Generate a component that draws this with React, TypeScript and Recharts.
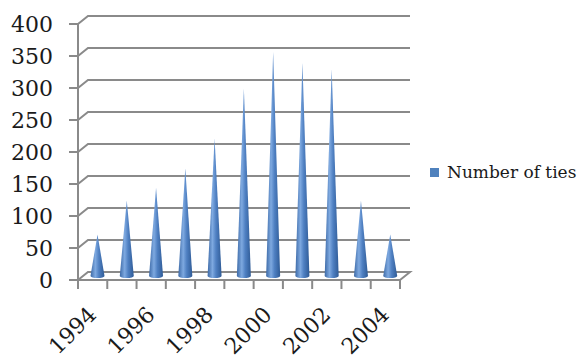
import { BarChart, Bar, XAxis, YAxis, CartesianGrid, Legend } from 'recharts'

const YEARS = ['1994', '1995', '1996', '1997', '1998', '1999', '2000', '2001', '2002', '2003', '2004']
const TIES = [65, 118, 138, 168, 215, 293, 350, 333, 323, 118, 65]
const Y_TICKS = [0, 50, 100, 150, 200, 250, 300, 350, 400]
const SERIES_NAME = 'Number of ties'

const W = 582
const H = 358
const AXIS_W = 78
const AXIS_H = 78
const M = { top: 24, right: 182, bottom: 0, left: 0 }
const PLOT_W = W - AXIS_W - M.right
const BAND = PLOT_W / YEARS.length
// 3D depth of the walls
const DX = 10
const DY = 8
const FONT = '"DejaVu Serif", serif'
const GRID = '#8a8a8a'

const data = YEARS.map((year, i) => ({ year, ties: TIES[i] }))

const Cone = (props: any) => {
  const { x, y, width, height, index } = props
  if (height == null || height <= 0) return null
  const cx = x + width / 2 + DX / 2
  const tip = y - DY / 2
  const base = y + height - DY / 2
  const hw = 7
  const id = `cone-${index}`
  return (
    <g>
      <defs>
        <linearGradient id={id} x1="0" y1="0" x2="1" y2="0">
          <stop offset="0%" stopColor="#3d6aa7" />
          <stop offset="35%" stopColor="#7ea9e0" />
          <stop offset="60%" stopColor="#4f80c2" />
          <stop offset="100%" stopColor="#2f5b96" />
        </linearGradient>
      </defs>
      <path
        d={`M${cx - hw},${base} L${cx},${tip} L${cx + hw},${base} A${hw},2 0 0 1 ${cx - hw},${base} Z`}
        fill={`url(#${id})`}
      />
    </g>
  )
}

const GridLine = (props: any) => {
  const { x1, x2, y1 } = props
  const isFloor = Math.abs(y1 - (H - AXIS_H)) < 1
  let d = `M${x1},${y1} L${x1 + DX},${y1 - DY} L${x2 + DX},${y1 - DY}`
  if (isFloor) d += ` L${x2},${y1}`
  return <path d={d} stroke={GRID} strokeWidth={2} fill="none" />
}

const XTick = (props: any) => {
  const { x, y, index, payload } = props
  const left = x - BAND / 2
  const isLast = index === YEARS.length - 1
  return (
    <g>
      <line x1={left} y1={y} x2={left} y2={y + 9} stroke={GRID} strokeWidth={2} />
      {isLast && <line x1={left + BAND} y1={y} x2={left + BAND} y2={y + 9} stroke={GRID} strokeWidth={2} />}
      {index % 2 === 0 && (
        <text
          x={x + 5}
          y={y + 36}
          textAnchor="end"
          transform={`rotate(-45 ${x + 5} ${y + 36})`}
          fontFamily={FONT}
          fontSize={22}
          fill="#1a1a1a"
        >
          {payload.value}
        </text>
      )}
    </g>
  )
}

const LegendBox = () => (
  <div style={{ display: 'flex', alignItems: 'center', fontFamily: FONT, fontSize: 17, color: '#1a1a1a' }}>
    <span style={{ width: 9, height: 9, background: '#4f81bd', marginRight: 8, display: 'inline-block' }} />
    {SERIES_NAME}
  </div>
)

export default function App() {
  return (
    <div style={{ position: 'absolute', left: 0, top: 0, width: W, height: H, background: '#fff' }}>
      <BarChart width={W} height={H} data={data} margin={M} barCategoryGap={0}>
        <CartesianGrid vertical={false} horizontal={GridLine as any} />
        <XAxis
          dataKey="year"
          interval={0}
          tickSize={0}
          tickMargin={0}
          tickLine={false}
          axisLine={{ stroke: GRID, strokeWidth: 2 }}
          tick={XTick as any}
          height={AXIS_H}
        />
        <YAxis
          domain={[0, 400]}
          ticks={Y_TICKS}
          interval={0}
          width={AXIS_W}
          tickSize={9}
          tickMargin={16}
          axisLine={{ stroke: GRID, strokeWidth: 2 }}
          tickLine={{ stroke: GRID, strokeWidth: 2 }}
          tick={{ fontFamily: FONT, fontSize: 22, fill: '#1a1a1a' }}
        />
        <Legend
          layout="horizontal"
          verticalAlign="middle"
          align="center"
          content={LegendBox}
          wrapperStyle={{ left: 430, top: 162, width: 160 }}
        />
        <Bar dataKey="ties" name={SERIES_NAME} shape={Cone} isAnimationActive={false} />
      </BarChart>
    </div>
  )
}
